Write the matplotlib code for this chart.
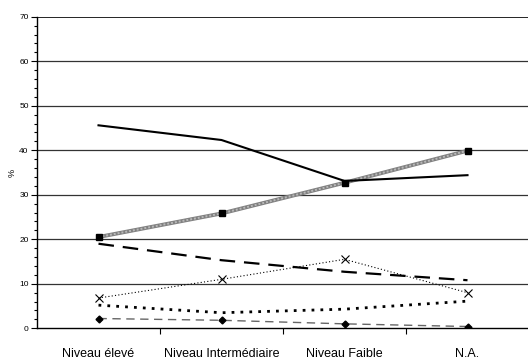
import matplotlib
matplotlib.use("Agg")
import matplotlib.pyplot as plt
from matplotlib.ticker import MultipleLocator, FixedLocator

categories = ["Niveau élevé", "Niveau Intermédiaire", "Niveau Faible", "N.A."]
s_solid = [45.6, 42.3, 33.1, 34.4]
s_grey_sq = [20.5, 25.8, 32.7, 39.9]
s_longdash = [19.0, 15.3, 12.7, 10.8]
s_dot_x = [6.8, 11.0, 15.5, 8.0]
s_thickdot = [5.2, 3.5, 4.3, 6.1]
s_diamond = [2.2, 1.8, 1.0, 0.4]
y_ticks = [0, 10, 20, 30, 40, 50, 60, 70]

plt.rcParams['font.family'] = ['Liberation Sans', 'DejaVu Sans']

fig = plt.figure(figsize=(5.28, 3.63), dpi=100)
ax = fig.add_axes([37/528, 34.7/363, 492/528, 311.6/363])

x = list(range(len(categories)))

ax.plot(x, s_solid, color='black', lw=1.5, zorder=5)
ax.plot(x, s_grey_sq, color='#808080', lw=2.8, zorder=4)
ax.plot(x, s_grey_sq, color='#b8b8b8', lw=1.4, ls=(0, (1, 1)), zorder=4)
ax.plot(x, s_grey_sq, ls='none', marker='s', ms=5, color='black', zorder=6)
ax.plot(x, s_longdash, color='black', lw=1.6, dashes=(7, 4), zorder=4)
ax.plot(x, s_dot_x, color='black', lw=0.8, ls=(0, (1, 2)), marker='x', ms=6, mew=0.8, zorder=4)
ax.plot(x, s_thickdot, color='black', lw=2, dashes=(1, 2.2), zorder=4)
ax.plot(x, s_diamond, color='#666666', lw=1.0, dashes=(6, 4), zorder=4)
ax.plot(x, s_diamond, ls='none', marker='D', ms=3.5, color='black', zorder=6)

ax.set_xlim(-0.5, len(categories) - 0.5)
ax.set_ylim(0, 70)

ax.yaxis.set_major_locator(FixedLocator(y_ticks))
ax.yaxis.set_minor_locator(MultipleLocator(2))
ax.tick_params(axis='y', which='major', length=4, width=0.8, labelsize=6, pad=2, direction='out')
ax.tick_params(axis='y', which='minor', length=2.5, width=0.8, direction='out')
ax.set_yticklabels([str(v) for v in y_ticks])

ax.set_xticks(x)
ax.set_xticklabels(categories, fontsize=9)
ax.tick_params(axis='x', which='major', length=0, pad=14)
ax.xaxis.set_minor_locator(FixedLocator([0.5, 1.5, 2.5]))
ax.tick_params(axis='x', which='minor', length=4, width=0.8, direction='out')

for v in y_ticks[1:]:
    ax.axhline(v, color='#333333' if v != 70 else 'black', lw=0.9 if v != 70 else 1.2, zorder=1)

for side in ['top', 'right']:
    ax.spines[side].set_visible(False)
ax.spines['left'].set_linewidth(1.0)
ax.spines['bottom'].set_linewidth(1.0)

ax.set_ylabel('%', fontsize=6.5, labelpad=2)

fig.savefig('out.png', dpi=100)
